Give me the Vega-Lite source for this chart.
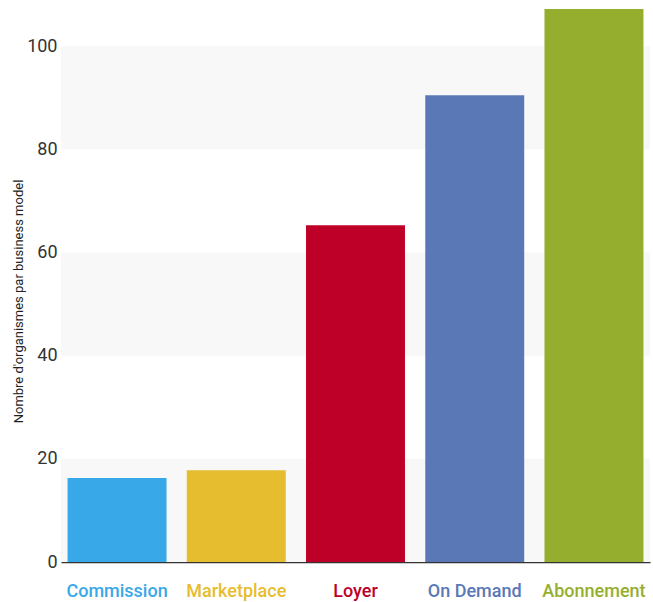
{
  "$schema": "https://vega.github.io/schema/vega-lite/v6.json",
  "autosize": {"type": "none"},
  "padding": {"left": 61, "top": 9, "right": 3, "bottom": 40},
  "width": 589,
  "height": 553,
  "background": "white",
  "config": {"view": {"stroke": null}, "font": "Roboto"},
  "datasets": {
    "bars": [
      {"model": "Commission", "count": 16.3},
      {"model": "Marketplace", "count": 17.8},
      {"model": "Loyer", "count": 65.3},
      {"model": "On Demand", "count": 90.5},
      {"model": "Abonnement", "count": 107.2}
    ],
    "bands": [
      {"from": 0, "to": 20},
      {"from": 40, "to": 60},
      {"from": 80, "to": 100}
    ]
  },
  "layer": [
    {
      "data": {"name": "bands"},
      "mark": {"type": "rect", "color": "#f8f8f8"},
      "encoding": {
        "y": {"field": "from", "type": "quantitative", "scale": {"domain": [0, 107.2], "nice": false, "zero": true}},
        "y2": {"field": "to"}
      }
    },
    {
      "data": {"name": "bars"},
      "mark": {"type": "bar"},
      "encoding": {
        "x": {
          "field": "model",
          "type": "nominal",
          "sort": null,
          "scale": {"paddingInner": 0.17, "paddingOuter": 0.055},
          "axis": {
            "title": null,
            "ticks": false,
            "domainColor": "#333333",
            "domainWidth": 1.5,
            "labelAngle": 0,
            "labelFontSize": 18,
            "labelFontWeight": 500,
            "labelPadding": 20,
            "labelColor": {"expr": "datum.value == 'Commission' ? '#38a8e8' : datum.value == 'Marketplace' ? '#e6bd2f' : datum.value == 'Loyer' ? '#be0028' : datum.value == 'On Demand' ? '#5b78b6' : '#96ae2e'"}
          }
        },
        "y": {
          "field": "count",
          "type": "quantitative",
          "scale": {"domain": [0, 107.2], "nice": false},
          "axis": {
            "title": "Nombre d'organismes par business model",
            "values": [0, 20, 40, 60, 80, 100],
            "grid": false,
            "ticks": false,
            "domain": false,
            "labelFontSize": 18,
            "labelColor": "#333333",
            "labelPadding": 4,
            "titleFontSize": 13,
            "titleFontWeight": "normal",
            "titleColor": "#222222",
            "titleX": -43,
            "titleY": 292,
            "titleAlign": "center",
            "titleBaseline": "middle"
          }
        },
        "color": {
          "field": "model",
          "type": "nominal",
          "scale": {
            "domain": ["Commission", "Marketplace", "Loyer", "On Demand", "Abonnement"],
            "range": ["#38a8e8", "#e6bd2f", "#be0028", "#5b78b6", "#96ae2e"]
          },
          "legend": null
        }
      }
    }
  ]
}
